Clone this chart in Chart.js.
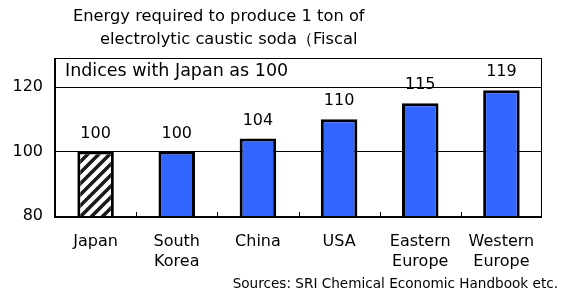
<!DOCTYPE html>
<html><head><meta charset="utf-8">
<script src="https://cdn.jsdelivr.net/npm/chart.js@4/dist/chart.umd.min.js"></script>
<style>html,body{margin:0;padding:0;background:#fff;}#wrap{width:566px;height:299px;}</style>
</head><body><div id="wrap"><canvas id="c" width="566" height="299"></canvas></div>
<script>
const categories = [["Japan"], ["South", "Korea"], ["China"], ["USA"], ["Eastern", "Europe"], ["Western", "Europe"]];
const values = [100, 100, 104, 110, 115, 119];
const yTicks = [80, 100, 120];
const titleLines = ["Energy required to produce 1 ton of", "electrolytic caustic soda\uFF08Fiscal"];
const noteText = "Indices with Japan as 100";
const sourceText = "Sources: SRI Chemical Economic Handbook etc.";

const FONT = "'DejaVu Sans', sans-serif";

function hatch() {
  const s = 11;
  const p = document.createElement('canvas');
  p.width = s; p.height = s;
  const g = p.getContext('2d');
  g.fillStyle = '#fff'; g.fillRect(0, 0, s, s);
  g.strokeStyle = '#1a1a1a'; g.lineWidth = 3.5;
  g.beginPath();
  g.moveTo(-s, s); g.lineTo(s, -s);
  g.moveTo(0, s); g.lineTo(s, 0);
  g.moveTo(0, 2 * s); g.lineTo(2 * s, 0);
  g.stroke();
  return g.createPattern(p, 'repeat');
}

const colors = values.map((v, i) => i === 0 ? hatch() : '#3366FF');

const deco = {
  id: 'deco',
  afterDatasetsDraw(chart) {
    const ctx = chart.ctx, a = chart.chartArea;
    const x = chart.scales.x;
    ctx.save();
    ctx.strokeStyle = '#000'; ctx.lineWidth = 1;
    ctx.strokeRect(a.left + 0.5, a.top + 0.5, a.right - a.left - 1, a.bottom - a.top);
    ctx.lineWidth = 2;
    ctx.beginPath();
    ctx.moveTo(a.left, a.top); ctx.lineTo(a.left, a.bottom + 1);
    ctx.lineTo(a.right, a.bottom + 1);
    ctx.stroke();
    ctx.lineWidth = 1;
    for (let i = 1; i < categories.length; i++) {
      const xx = Math.round((x.getPixelForValue(i - 1) + x.getPixelForValue(i)) / 2) + 0.5;
      ctx.beginPath(); ctx.moveTo(xx, a.bottom); ctx.lineTo(xx, a.bottom - 4); ctx.stroke();
    }
    ctx.fillStyle = '#000';
    ctx.font = '16px ' + FONT;
    ctx.textAlign = 'center'; ctx.textBaseline = 'middle';
    const meta = chart.getDatasetMeta(0);
    meta.data.forEach((bar, i) => {
      ctx.fillText(String(values[i]), bar.x, bar.y - 18);
    });
    ctx.textAlign = 'left';
    ctx.font = '17.5px ' + FONT;
    ctx.fillText(noteText, a.left + 10, a.top + 13);
    ctx.font = '16.3px ' + FONT;
    ctx.fillText(titleLines[0], 73, 17);
    ctx.fillText(titleLines[1], 100, 40);
    ctx.textAlign = 'right';
    ctx.font = '13.6px ' + FONT;
    ctx.fillText(sourceText, 558, 284);
    ctx.restore();
  }
};

new Chart(document.getElementById('c'), {
  type: 'bar',
  data: {
    labels: categories,
    datasets: [{
      data: values,
      backgroundColor: colors,
      borderColor: '#000',
      borderWidth: 3,
      borderSkipped: 'bottom',
      categoryPercentage: 1,
      barPercentage: 0.45
    }]
  },
  options: {
    responsive: false,
    animation: false,
    devicePixelRatio: 1,
    layout: { padding: { top: 58, right: 24, left: 0, bottom: 0 } },
    plugins: { legend: { display: false }, tooltip: { enabled: false }, title: { display: false } },
    scales: {
      y: {
        min: 80, max: 129,
        afterBuildTicks(s) { s.ticks = yTicks.map(v => ({ value: v })); },
        afterFit(s) { s.width = 55; },
        border: { display: false },
        grid: { color: '#000', lineWidth: 1, drawTicks: false },
        ticks: { color: '#000', padding: 12, font: { family: FONT, size: 16 } }
      },
      x: {
        afterFit(s) { s.height = 83; },
        border: { display: false },
        grid: { display: false, drawTicks: false },
        ticks: { color: '#000', padding: 16, maxRotation: 0, font: { family: FONT, size: 16, lineHeight: 1.25 } }
      }
    }
  },
  plugins: [deco]
});
</script>
</body></html>
